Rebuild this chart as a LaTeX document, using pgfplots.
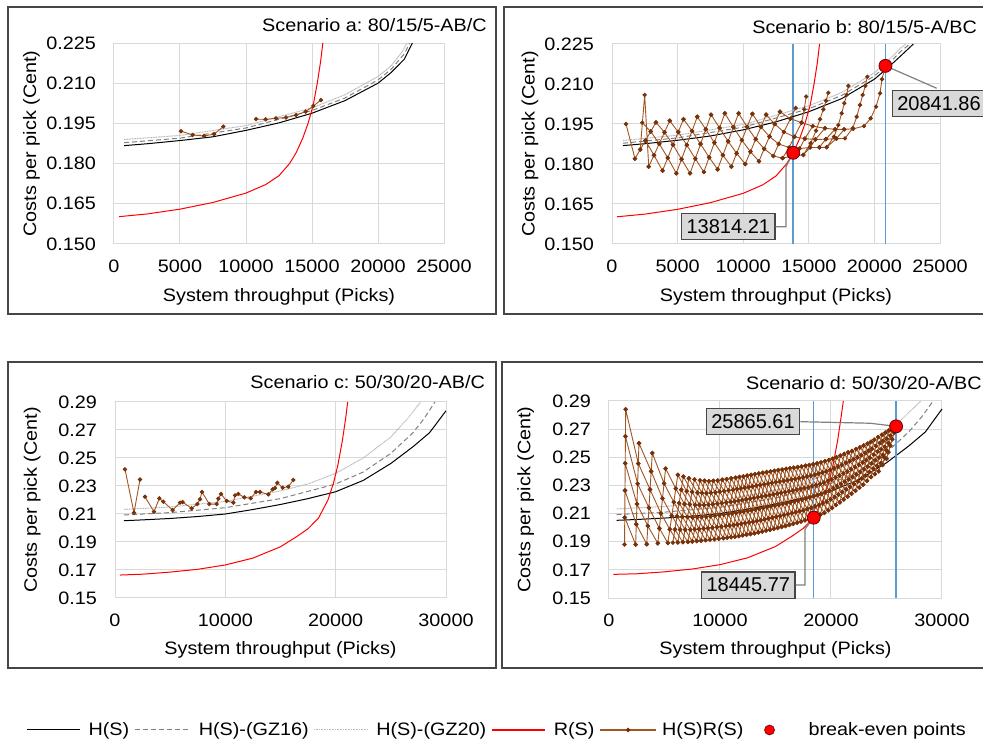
\documentclass[border=0pt]{standalone}
\usepackage{fontspec}
\setmainfont[FakeStretch=1.1]{Liberation Sans}
\newfontfamily\lblfont{Liberation Sans}
\usepackage{pgfplots}
\pgfplotsset{compat=1.18}
\definecolor{gridc}{RGB}{217,217,217}
\definecolor{framec}{RGB}{70,70,70}
\definecolor{gzsix}{RGB}{128,128,128}
\definecolor{gztwo}{RGB}{185,185,185}
\definecolor{hsrsl}{RGB}{160,85,35}
\definecolor{hsrsm}{RGB}{120,50,10}
\definecolor{beb}{RGB}{110,0,0}
\definecolor{blc}{RGB}{91,155,213}
\definecolor{lblfill}{RGB}{217,217,217}
\newcommand{\ff}{\fontsize{18}{21}\selectfont}
\pgfplotsset{
  /pgf/number format/assume math mode=true,
  panel/.style={
    scale only axis, clip=false, unbounded coords=jump,
    axis line style={draw=gridc, line width=1pt},
    grid=major, major grid style={draw=gridc, line width=1pt},
    major tick length=0pt,
    tick label style={font=\ff},
    label style={font=\ff},
    scaled x ticks=false, scaled y ticks=false,
    x tick label style={yshift=-10pt, /pgf/number format/fixed, /pgf/number format/1000 sep={}},
    y tick label style={xshift=-12pt},
    xlabel={System throughput (Picks)},
    ylabel={Costs per pick (Cent)},
    xlabel style={at={(axis description cs:0.5,-0.262)}, anchor=center},
    ylabel style={at={(axis description cs:-0.25,0.5)}, anchor=center},
  },
  ythree/.style={y tick label style={/pgf/number format/fixed, /pgf/number format/fixed zerofill, /pgf/number format/precision=3}},
  ytwo/.style={y tick label style={/pgf/number format/fixed, /pgf/number format/fixed zerofill, /pgf/number format/precision=2}},
  hs/.style={black, line width=1pt, mark=none, legend image code/.code={\draw[black, line width=1pt] (0pt,0pt) -- (53pt,0pt); \path[draw=none] (0pt,0pt) -- (60pt,0pt);}},
  gzs/.style={color=gzsix, line width=1pt, dash pattern=on 5pt off 3pt, mark=none, legend image code/.code={\draw[gzsix, line width=1pt, dash pattern=on 5pt off 3pt] (0pt,0pt) -- (55pt,0pt); \path[draw=none] (0pt,0pt) -- (62pt,0pt);}},
  gzt/.style={color=gztwo, line width=1pt, dash pattern=on 1pt off 0.6pt, mark=none, legend image code/.code={\draw[gztwo, line width=1pt, dash pattern=on 1pt off 0.6pt] (0pt,0pt) -- (54pt,0pt); \path[draw=none] (0pt,0pt) -- (60pt,0pt);}},
  rs/.style={red, line width=1pt, mark=none, legend image code/.code={\draw[red, line width=1.2pt] (0pt,0pt) -- (53pt,0pt); \path[draw=none] (0pt,0pt) -- (60pt,0pt);}},
  hsrs/.style={color=hsrsl, line width=0.9pt, mark=*, mark size=1.7pt, mark options={fill=hsrsm, draw=hsrsm, solid},
    legend image code/.code={\draw[hsrsl, line width=1.2pt] (0pt,0pt) -- (56pt,0pt); \fill[hsrsm] (28pt,0pt) circle (1.8pt); \path[draw=none] (0pt,0pt) -- (60pt,0pt);}},
  be/.style={only marks, mark=*, mark size=6.5pt, mark options={fill=red, draw=beb, line width=0.8pt},
    legend image code/.code={\path[draw=none] (0pt,0pt) -- (58pt,0pt); \filldraw[fill=red, draw=beb, line width=0.6pt] (21pt,0pt) circle (5pt);}},
  vline/.style={color=blc, line width=1.5pt, mark=none, forget plot},
}
\tikzset{
  lbl/.style={fill=lblfill, draw=framec, line width=1.2pt, font=\lblfont\fontsize{20}{22}\selectfont, inner xsep=5pt, inner ysep=6pt},
  leader/.style={draw=gzsix, line width=1.2pt},
  ttl/.style={anchor=east, inner sep=0pt},
}
\begin{document}
\frenchspacing
\ff
\begin{tikzpicture}[font=\ff]
\useasboundingbox (0,0) rectangle (983pt,742pt);
\draw[framec, line width=1.6pt] (8pt,428pt) rectangle (496pt,735pt);
\draw[framec, line width=1.6pt] (504pt,428pt) rectangle (995pt,735pt);
\draw[framec, line width=1.6pt] (8pt,74pt) rectangle (496pt,380pt);
\draw[framec, line width=1.6pt] (502pt,74pt) rectangle (995pt,380pt);

% ---------------- Panel a
\begin{axis}[panel, ythree, at={(114pt,498pt)}, anchor=south west, width=330pt, height=201pt,
  xmin=0, xmax=25000, ymin=0.150, ymax=0.225,
  xtick={0,5000,10000,15000,20000,25000}, ytick={0.150,0.165,0.180,0.195,0.210,0.225}]
\addplot[gzt] coordinates {(760,0.1890) (5000,0.1905) (10000,0.1942) (15000,0.2008) (17500,0.2057) (20000,0.2125) (21000,0.2165) (21800,0.2215) (22200,0.2250)};
\addplot[gzs] coordinates {(760,0.1878) (5000,0.1895) (10000,0.1933) (15000,0.1998) (17500,0.2045) (20000,0.2112) (21000,0.2152) (22000,0.2210) (22400,0.2250)};
\addplot[hs] coordinates {(760,0.1867) (2500,0.1874) (5000,0.1886) (7500,0.1900) (10000,0.1924) (12500,0.1952) (15000,0.1988) (17500,0.2035) (20000,0.2100) (21000,0.2140) (22000,0.2190) (22600,0.2250)};
\addplot[rs] coordinates {(380,0.1602) (2500,0.1612) (5000,0.1630) (7500,0.1655) (10000,0.1690) (11500,0.1722) (12500,0.1755) (13300,0.1800) (13814,0.1842) (14300,0.1895) (14700,0.1950) (15100,0.2020) (15400,0.2100) (15650,0.2180) (15820,0.2250)};
\addplot[hsrs] coordinates {(5076,0.1921) (5960,0.1907) (6820,0.1903) (7580,0.1910) (8280,0.1938) (nan,nan)
 (10760,0.1966) (11490,0.1965) (12270,0.1969) (13030,0.1972) (13790,0.1981) (14520,0.1994) (15100,0.2015) (15680,0.2037)};
\node[ttl] at (axis description cs:1.130,1.0896) {Scenario a: 80/15/5-AB/C};
\end{axis}

% ---------------- Panel b
\begin{axis}[panel, ythree, at={(612pt,498pt)}, anchor=south west, width=328pt, height=200pt,
  xmin=0, xmax=25000, ymin=0.150, ymax=0.225,
  xtick={0,5000,10000,15000,20000,25000}, ytick={0.150,0.165,0.180,0.195,0.210,0.225}]
\addplot[vline] coordinates {(13814.21,0.150) (13814.21,0.225)};
\addplot[vline] coordinates {(20841.86,0.150) (20841.86,0.225)};
\addplot[gzt] coordinates {(838,0.1888) (5000,0.1908) (10000,0.1948) (15000,0.2018) (17500,0.2068) (20000,0.2142) (21000,0.2185) (22000,0.2235) (22400,0.2250)};
\addplot[gzs] coordinates {(838,0.1878) (5000,0.1898) (10000,0.1938) (15000,0.2007) (17500,0.2057) (20000,0.2130) (21000,0.2172) (22000,0.2222) (22700,0.2250)};
\addplot[hs] coordinates {(838,0.1869) (2500,0.1876) (5000,0.1889) (7500,0.1905) (10000,0.1928) (12500,0.1958) (15000,0.1996) (17500,0.2045) (20000,0.2118) (21000,0.2160) (22000,0.2205) (22970,0.2250)};
\addplot[rs] coordinates {(380,0.1602) (2500,0.1612) (5000,0.1630) (7500,0.1655) (10000,0.1690) (11500,0.1722) (12500,0.1755) (13300,0.1800) (13814,0.1842) (14300,0.1895) (14700,0.1950) (15100,0.2020) (15400,0.2100) (15650,0.2180) (15820,0.2250)};
\addplot[hsrs] coordinates {
 (1067,0.1950) (1750,0.1820) (nan,nan)
 (2150,0.1854) (2490,0.2059) (2800,0.1790) (nan,nan)
 (1750,0.1820) (2150,0.1854) (2550,0.1888) (2950,0.1922) (3350,0.1956) (nan,nan)
 (2800,0.1790) (3200,0.1833) (3600,0.1876) (4000,0.1919) (4400,0.1962) (nan,nan)
 (3850,0.1775) (4250,0.1823) (4650,0.1872) (5050,0.1920) (5450,0.1968) (nan,nan)
 (4900,0.1765) (5300,0.1818) (5700,0.1871) (6100,0.1924) (6500,0.1977) (nan,nan)
 (5950,0.1765) (6350,0.1820) (6750,0.1875) (7150,0.1930) (7550,0.1985) (nan,nan)
 (7000,0.1770) (7400,0.1825) (7800,0.1880) (8200,0.1935) (8600,0.1990) (nan,nan)
 (8050,0.1780) (8450,0.1833) (8850,0.1885) (9250,0.1938) (9650,0.1990) (nan,nan)
 (9100,0.1790) (9500,0.1840) (9900,0.1889) (10300,0.1939) (10700,0.1988) (nan,nan)
 (10150,0.1800) (10550,0.1846) (10950,0.1893) (11350,0.1939) (11750,0.1985) (nan,nan)
 (11200,0.1810) (11600,0.1857) (12000,0.1903) (12400,0.1950) (12800,0.1996) (nan,nan)
 (2550,0.1888) (3200,0.1833) (3850,0.1775) (nan,nan)
 (2300,0.1955) (2950,0.1922) (3600,0.1876) (4250,0.1823) (4900,0.1765) (nan,nan)
 (3350,0.1956) (4000,0.1919) (4650,0.1872) (5300,0.1818) (5950,0.1765) (nan,nan)
 (4400,0.1962) (5050,0.1920) (5700,0.1871) (6350,0.1820) (7000,0.1770) (nan,nan)
 (5450,0.1968) (6100,0.1924) (6750,0.1875) (7400,0.1825) (8050,0.1780) (nan,nan)
 (6500,0.1977) (7150,0.1930) (7800,0.1880) (8450,0.1833) (9100,0.1790) (nan,nan)
 (7550,0.1985) (8200,0.1935) (8850,0.1885) (9500,0.1840) (10150,0.1800) (nan,nan)
 (8600,0.1990) (9250,0.1938) (9900,0.1889) (10550,0.1846) (11200,0.1810) (nan,nan)
 (9650,0.1990) (10300,0.1939) (10950,0.1893) (11600,0.1857) (12300,0.1830) (13000,0.1822) (13800,0.1830) (14583,0.1834) (15143,0.1878) (15550,0.1925) (15854,0.1968) (16108,0.2005) (16311,0.2037) (16489,0.2067) (nan,nan)
 (10700,0.1988) (11350,0.1939) (12000,0.1903) (12700,0.1875) (13500,0.1862) (14300,0.1858) (15100,0.1862) (15800,0.1862) (16362,0.1863) (16921,0.1902) (17251,0.1946) (17505,0.1990) (17707,0.2028) (17886,0.2059) (18012,0.2093) (nan,nan)
 (11750,0.1985) (12400,0.1950) (13100,0.1920) (13900,0.1902) (14700,0.1895) (15500,0.1892) (16300,0.1893) (17100,0.1895) (17759,0.1896) (18345,0.1934) (18649,0.1977) (18903,0.2021) (19106,0.2059) (19309,0.2093) (19462,0.2127) (nan,nan)
 (12800,0.1996) (13600,0.1970) (14450,0.1955) (15300,0.1942) (16235,0.1934) (17000,0.1930) (17700,0.1930) (18395,0.1932) (19208,0.1942) (19716,0.1971) (20122,0.2015) (20427,0.2065) (20579,0.2118) (20842,0.2168) (nan,nan)
 (12300,0.1830) (12700,0.1875) (13100,0.1920) (13600,0.1970) (14000,0.2010) (nan,nan)
 (13000,0.1822) (13500,0.1862) (13900,0.1902) (14450,0.1955) (14650,0.2005) (14800,0.2053) (nan,nan)
 (13800,0.1830) (14300,0.1858) (14700,0.1895) (15300,0.1942) (nan,nan)
 (14583,0.1834) (15100,0.1862) (15500,0.1892) (16235,0.1934) (nan,nan)
 (15800,0.1862) (16300,0.1893) (17000,0.1930) (nan,nan)
 (16362,0.1863) (17100,0.1895) (17700,0.1930)
};
\draw[leader] (axis cs:20841.86,0.2168) -- (axis cs:24748,0.2084);
\node[lbl, anchor=west] at (axis cs:21319,0.2026) {20841.86};
\node[lbl] (lb1) at (axis cs:8865,0.1565) {13814.21};
\draw[leader] (lb1.east) -- (axis cs:13262,0.1565) -- (axis cs:13262,0.1790) -- (axis cs:13814.21,0.1842);
\addplot[be] coordinates {(13814.21,0.1842) (20841.86,0.2168)};
\node[ttl] at (axis description cs:1.113,1.085) {Scenario b: 80/15/5-A/BC};
\end{axis}

% ---------------- Panel c
\begin{axis}[panel, ytwo, at={(115pt,144pt)}, anchor=south west, width=331pt, height=196pt,
  xmin=0, xmax=30000, ymin=0.15, ymax=0.29,
  xtick={0,10000,20000,30000}, ytick={0.15,0.17,0.19,0.21,0.23,0.25,0.27,0.29}]
\addplot[gzt] coordinates {(816,0.2133) (5000,0.2150) (10000,0.2190) (15000,0.2265) (17500,0.2315) (20000,0.2390) (22500,0.2500) (25000,0.2650) (26500,0.2780) (27700,0.2900)};
\addplot[gzs] coordinates {(816,0.2093) (5000,0.2110) (10000,0.2145) (15000,0.2210) (20000,0.2314) (22500,0.2400) (25000,0.2533) (27000,0.2680) (28000,0.2780) (29000,0.2900)};
\addplot[hs] coordinates {(816,0.2052) (2500,0.2058) (5000,0.2068) (7500,0.2082) (10000,0.2100) (12500,0.2132) (15000,0.2168) (17500,0.2210) (20000,0.2259) (22500,0.2340) (25000,0.2461) (27000,0.2580) (28500,0.2680) (30000,0.2837)};
\addplot[rs] coordinates {(453,0.1664) (2500,0.1670) (5000,0.1685) (7500,0.1705) (10000,0.1736) (12500,0.1785) (15000,0.1866) (16500,0.1940) (17500,0.1995) (18446,0.2071) (19300,0.2200) (19800,0.2320) (20200,0.2450) (20600,0.2620) (20900,0.2780) (21088,0.2900)};
\addplot[hsrs] coordinates {(906,0.2419) (1722,0.2109) (2266,0.2347) (nan,nan)
 (2719,0.2223) (3535,0.2116) (4018,0.2212) (4380,0.2188) (5226,0.2128) (5891,0.2181) (6133,0.2185) (6948,0.2140) (7461,0.2171) (7703,0.2205) (7885,0.2257) (8549,0.2171) (9214,0.2171) (9365,0.2209) (9607,0.2243) (10120,0.2193) (10724,0.2181) (10876,0.2233) (11178,0.2243) (11722,0.2219) (12297,0.2212) (12779,0.2257) (13141,0.2257) (13896,0.2240) (14290,0.2276) (14501,0.2285) (14712,0.2323) (15196,0.2288) (15710,0.2295) (16162,0.2343)};
\node[ttl] at (axis description cs:1.118,1.102) {Scenario c: 50/30/20-AB/C};
\end{axis}

% ---------------- Panel d
\begin{axis}[panel, ytwo, at={(609pt,144pt)}, anchor=south west, width=333pt, height=197pt,
  xmin=0, xmax=30000, ymin=0.15, ymax=0.29,
  xtick={0,10000,20000,30000}, ytick={0.15,0.17,0.19,0.21,0.23,0.25,0.27,0.29},
  legend columns=6,
  legend style={at={(axis description cs:-0.3363,-0.670)}, anchor=center, draw=none, fill=none, font=\ff,
    /tikz/every even column/.append style={column sep=3pt}}]
\addplot[hs] coordinates {(690,0.2052) (2500,0.2058) (5000,0.2068) (7500,0.2082) (10000,0.2100) (12500,0.2132) (15000,0.2168) (17500,0.2210) (20000,0.2259) (22500,0.2340) (25000,0.2461) (27000,0.2580) (28500,0.2680) (30000,0.2843)};
\addlegendentry{H(S)}
\addplot[gzs] coordinates {(690,0.2093) (5000,0.2110) (10000,0.2145) (15000,0.2210) (20000,0.2314) (22500,0.2400) (25000,0.2533) (27000,0.2680) (28200,0.2790) (29200,0.2900)};
\addlegendentry{H(S)-(GZ16)}
\addplot[gzt] coordinates {(690,0.2133) (5000,0.2150) (10000,0.2190) (15000,0.2265) (17500,0.2315) (20000,0.2390) (22500,0.2500) (25000,0.2650) (26500,0.2780) (28100,0.2900)};
\addlegendentry{H(S)-(GZ20)}
\addplot[rs] coordinates {(390,0.1668) (2500,0.1672) (5000,0.1686) (7500,0.1706) (10000,0.1737) (12500,0.1786) (15000,0.1866) (16500,0.1940) (17500,0.1995) (18446,0.2071) (19300,0.2200) (19800,0.2320) (20200,0.2450) (20600,0.2620) (20900,0.2780) (21110,0.2900)};
\addlegendentry{R(S)}
\addplot[hsrs, forget plot] coordinates {
 (5750,0.1893) (5940,0.1987) (6130,0.2081) (6320,0.2175) (6510,0.2269) (6700,0.2363) (nan,nan)
 (6650,0.1897) (6860,0.1986) (7070,0.2075) (7280,0.2165) (7490,0.2254) (7700,0.2343) (nan,nan)
 (7500,0.1902) (7720,0.1988) (7940,0.2074) (8160,0.2161) (8380,0.2247) (8600,0.2333) (nan,nan)
 (8300,0.1908) (8520,0.1993) (8740,0.2078) (8960,0.2163) (9180,0.2248) (9400,0.2333) (nan,nan)
 (9100,0.1915) (9320,0.2000) (9540,0.2085) (9760,0.2170) (9980,0.2255) (10200,0.2340) (nan,nan)
 (9900,0.1922) (10120,0.2007) (10340,0.2093) (10560,0.2179) (10780,0.2265) (11000,0.2350) (nan,nan)
 (10650,0.1929) (10870,0.2015) (11090,0.2101) (11310,0.2187) (11530,0.2274) (11750,0.2360) (nan,nan)
 (11350,0.1936) (11570,0.2023) (11790,0.2110) (12010,0.2196) (12230,0.2283) (12450,0.2370) (nan,nan)
 (12050,0.1945) (12270,0.2032) (12490,0.2119) (12710,0.2206) (12930,0.2293) (13150,0.2380) (nan,nan)
 (12750,0.1955) (12970,0.2042) (13190,0.2129) (13410,0.2216) (13630,0.2303) (13850,0.2390) (nan,nan)
 (13450,0.1966) (13670,0.2053) (13890,0.2140) (14110,0.2226) (14330,0.2313) (14550,0.2400) (nan,nan)
 (14150,0.1979) (14370,0.2065) (14590,0.2151) (14810,0.2237) (15030,0.2323) (15250,0.2409) (nan,nan)
 (14850,0.1992) (15070,0.2077) (15290,0.2162) (15510,0.2247) (15730,0.2332) (15950,0.2418) (nan,nan)
 (15550,0.2005) (15770,0.2090) (15990,0.2174) (16210,0.2258) (16430,0.2342) (16650,0.2426) (nan,nan)
 (16250,0.2020) (16470,0.2103) (16690,0.2186) (16910,0.2269) (17130,0.2352) (17350,0.2435) (nan,nan)
 (16950,0.2035) (17170,0.2117) (17390,0.2199) (17610,0.2281) (17830,0.2363) (18050,0.2445) (nan,nan)
 (17650,0.2052) (17870,0.2133) (18090,0.2214) (18310,0.2295) (18530,0.2376) (18750,0.2457) (nan,nan)
 (18350,0.2070) (18570,0.2151) (18790,0.2231) (19010,0.2311) (19230,0.2392) (19450,0.2472) (nan,nan)
 (19050,0.2093) (19270,0.2172) (19490,0.2252) (19710,0.2331) (19930,0.2411) (20150,0.2490) (nan,nan)
 (19750,0.2123) (19970,0.2201) (20190,0.2279) (20410,0.2356) (20630,0.2434) (20850,0.2512) (nan,nan)
 (20450,0.2160) (20670,0.2235) (20890,0.2310) (21110,0.2385) (21330,0.2460) (21550,0.2535) (nan,nan)
 (21150,0.2200) (21370,0.2272) (21590,0.2343) (21810,0.2415) (22030,0.2486) (22250,0.2558) (nan,nan)
 (21850,0.2241) (22070,0.2310) (22290,0.2378) (22510,0.2447) (22730,0.2515) (22950,0.2584) (nan,nan)
 (22550,0.2284) (22760,0.2349) (22970,0.2415) (23180,0.2480) (23390,0.2546) (23600,0.2611) (nan,nan)
 (23250,0.2333) (23450,0.2395) (23650,0.2457) (23850,0.2519) (24050,0.2581) (24250,0.2643) (nan,nan)
 (23950,0.2380) (24140,0.2439) (24330,0.2498) (24520,0.2557) (24710,0.2616) (24900,0.2675) (nan,nan)
 (24650,0.2445) (24827,0.2497) (25003,0.2549) (25180,0.2601) (25356,0.2653) (25533,0.2705) (nan,nan)
 (5940,0.1987) (6650,0.1897) (nan,nan)
 (6130,0.2081) (6860,0.1986) (7500,0.1902) (nan,nan)
 (6320,0.2175) (7070,0.2075) (7720,0.1988) (8300,0.1908) (nan,nan)
 (6510,0.2269) (7280,0.2165) (7940,0.2074) (8520,0.1993) (9100,0.1915) (nan,nan)
 (6700,0.2363) (7490,0.2254) (8160,0.2161) (8740,0.2078) (9320,0.2000) (9900,0.1922) (nan,nan)
 (7700,0.2343) (8380,0.2247) (8960,0.2163) (9540,0.2085) (10120,0.2007) (10650,0.1929) (nan,nan)
 (8600,0.2333) (9180,0.2248) (9760,0.2170) (10340,0.2093) (10870,0.2015) (11350,0.1936) (nan,nan)
 (9400,0.2333) (9980,0.2255) (10560,0.2179) (11090,0.2101) (11570,0.2023) (12050,0.1945) (nan,nan)
 (10200,0.2340) (10780,0.2265) (11310,0.2187) (11790,0.2110) (12270,0.2032) (12750,0.1955) (nan,nan)
 (11000,0.2350) (11530,0.2274) (12010,0.2196) (12490,0.2119) (12970,0.2042) (13450,0.1966) (nan,nan)
 (11750,0.2360) (12230,0.2283) (12710,0.2206) (13190,0.2129) (13670,0.2053) (14150,0.1979) (nan,nan)
 (12450,0.2370) (12930,0.2293) (13410,0.2216) (13890,0.2140) (14370,0.2065) (14850,0.1992) (nan,nan)
 (13150,0.2380) (13630,0.2303) (14110,0.2226) (14590,0.2151) (15070,0.2077) (15550,0.2005) (nan,nan)
 (13850,0.2390) (14330,0.2313) (14810,0.2237) (15290,0.2162) (15770,0.2090) (16250,0.2020) (nan,nan)
 (14550,0.2400) (15030,0.2323) (15510,0.2247) (15990,0.2174) (16470,0.2103) (16950,0.2035) (nan,nan)
 (15250,0.2409) (15730,0.2332) (16210,0.2258) (16690,0.2186) (17170,0.2117) (17650,0.2052) (nan,nan)
 (15950,0.2418) (16430,0.2342) (16910,0.2269) (17390,0.2199) (17870,0.2133) (18350,0.2070) (nan,nan)
 (16650,0.2426) (17130,0.2352) (17610,0.2281) (18090,0.2214) (18570,0.2151) (19050,0.2093) (nan,nan)
 (17350,0.2435) (17830,0.2363) (18310,0.2295) (18790,0.2231) (19270,0.2172) (19750,0.2123) (nan,nan)
 (18050,0.2445) (18530,0.2376) (19010,0.2311) (19490,0.2252) (19970,0.2201) (20450,0.2160) (nan,nan)
 (18750,0.2457) (19230,0.2392) (19710,0.2331) (20190,0.2279) (20670,0.2235) (21150,0.2200) (nan,nan)
 (19450,0.2472) (19930,0.2411) (20410,0.2356) (20890,0.2310) (21370,0.2272) (21850,0.2241) (nan,nan)
 (20150,0.2490) (20630,0.2434) (21110,0.2385) (21590,0.2343) (22070,0.2310) (22550,0.2284) (nan,nan)
 (20850,0.2512) (21330,0.2460) (21810,0.2415) (22290,0.2378) (22760,0.2349) (23250,0.2333) (nan,nan)
 (21550,0.2535) (22030,0.2486) (22510,0.2447) (22970,0.2415) (23450,0.2395) (23950,0.2380) (nan,nan)
 (22250,0.2558) (22730,0.2515) (23180,0.2480) (23650,0.2457) (24140,0.2439) (24650,0.2445) (nan,nan)
 (22950,0.2584) (23390,0.2546) (23850,0.2519) (24330,0.2498) (24827,0.2497) (nan,nan)
 (23600,0.2611) (24050,0.2581) (24520,0.2557) (25003,0.2549) (nan,nan)
 (24250,0.2643) (24710,0.2616) (25180,0.2601) (nan,nan)
 (24900,0.2675) (25356,0.2653)
};
\addplot[hsrs] coordinates {
 (1400,0.1880) (1420,0.2072) (1440,0.2264) (1460,0.2457) (1480,0.2649) (1500,0.2841) (nan,nan)
 (2400,0.1880) (2460,0.2024) (2520,0.2168) (2580,0.2312) (2640,0.2456) (2700,0.2600) (nan,nan)
 (3400,0.1882) (3500,0.2012) (3600,0.2141) (3700,0.2271) (3800,0.2400) (3900,0.2530) (nan,nan)
 (4400,0.1889) (4540,0.1995) (4680,0.2101) (4820,0.2208) (4960,0.2314) (5100,0.2420) (nan,nan)
 (5300,0.1891) (5480,0.1988) (5660,0.2085) (5840,0.2181) (6020,0.2278) (6200,0.2375) (nan,nan)
 (6200,0.1895) (6400,0.1986) (6600,0.2077) (6800,0.2168) (7000,0.2259) (7200,0.2350) (nan,nan)
 (7100,0.1899) (7320,0.1986) (7540,0.2073) (7760,0.2161) (7980,0.2248) (8200,0.2336) (nan,nan)
 (7900,0.1905) (8120,0.1990) (8340,0.2075) (8560,0.2160) (8780,0.2245) (9000,0.2330) (nan,nan)
 (8700,0.1911) (8920,0.1996) (9140,0.2081) (9360,0.2165) (9580,0.2250) (9800,0.2335) (nan,nan)
 (9500,0.1918) (9720,0.2003) (9940,0.2089) (10160,0.2174) (10380,0.2260) (10600,0.2345) (nan,nan)
 (10300,0.1925) (10520,0.2011) (10740,0.2097) (10960,0.2183) (11180,0.2269) (11400,0.2355) (nan,nan)
 (11000,0.1932) (11220,0.2018) (11440,0.2105) (11660,0.2191) (11880,0.2278) (12100,0.2364) (nan,nan)
 (11700,0.1940) (11920,0.2027) (12140,0.2114) (12360,0.2201) (12580,0.2288) (12800,0.2375) (nan,nan)
 (12400,0.1950) (12620,0.2037) (12840,0.2124) (13060,0.2211) (13280,0.2298) (13500,0.2385) (nan,nan)
 (13100,0.1960) (13320,0.2047) (13540,0.2134) (13760,0.2221) (13980,0.2308) (14200,0.2395) (nan,nan)
 (13800,0.1972) (14020,0.2058) (14240,0.2145) (14460,0.2231) (14680,0.2318) (14900,0.2404) (nan,nan)
 (14500,0.1985) (14720,0.2071) (14940,0.2156) (15160,0.2242) (15380,0.2327) (15600,0.2413) (nan,nan)
 (15200,0.1998) (15420,0.2083) (15640,0.2168) (15860,0.2252) (16080,0.2337) (16300,0.2422) (nan,nan)
 (15900,0.2012) (16120,0.2096) (16340,0.2179) (16560,0.2263) (16780,0.2346) (17000,0.2430) (nan,nan)
 (16600,0.2027) (16820,0.2110) (17040,0.2192) (17260,0.2275) (17480,0.2357) (17700,0.2440) (nan,nan)
 (17300,0.2043) (17520,0.2124) (17740,0.2206) (17960,0.2287) (18180,0.2369) (18400,0.2450) (nan,nan)
 (18000,0.2060) (18220,0.2141) (18440,0.2222) (18660,0.2302) (18880,0.2383) (19100,0.2464) (nan,nan)
 (18700,0.2080) (18920,0.2160) (19140,0.2240) (19360,0.2320) (19580,0.2400) (19800,0.2480) (nan,nan)
 (19400,0.2105) (19620,0.2184) (19840,0.2263) (20060,0.2342) (20280,0.2421) (20500,0.2500) (nan,nan)
 (20100,0.2140) (20320,0.2217) (20540,0.2294) (20760,0.2370) (20980,0.2447) (21200,0.2524) (nan,nan)
 (20800,0.2180) (21020,0.2253) (21240,0.2326) (21460,0.2399) (21680,0.2472) (21900,0.2545) (nan,nan)
 (21500,0.2220) (21720,0.2290) (21940,0.2360) (22160,0.2430) (22380,0.2500) (22600,0.2570) (nan,nan)
 (22200,0.2262) (22420,0.2329) (22640,0.2396) (22860,0.2463) (23080,0.2530) (23300,0.2597) (nan,nan)
 (22900,0.2305) (23100,0.2369) (23300,0.2433) (23500,0.2497) (23700,0.2561) (23900,0.2625) (nan,nan)
 (23600,0.2360) (23800,0.2420) (24000,0.2480) (24200,0.2540) (24400,0.2600) (24600,0.2660) (nan,nan)
 (24300,0.2400) (24480,0.2458) (24660,0.2516) (24840,0.2574) (25020,0.2632) (25200,0.2690) (nan,nan)
 (25000,0.2490) (25173,0.2536) (25346,0.2582) (25519,0.2628) (25692,0.2674) (25866,0.2720) (nan,nan)
 (1420,0.2072) (2400,0.1880) (nan,nan)
 (1440,0.2264) (2460,0.2024) (3400,0.1882) (nan,nan)
 (1460,0.2457) (2520,0.2168) (3500,0.2012) (4400,0.1889) (nan,nan)
 (1480,0.2649) (2580,0.2312) (3600,0.2141) (4540,0.1995) (5300,0.1891) (nan,nan)
 (1500,0.2841) (2640,0.2456) (3700,0.2271) (4680,0.2101) (5480,0.1988) (6200,0.1895) (nan,nan)
 (2700,0.2600) (3800,0.2400) (4820,0.2208) (5660,0.2085) (6400,0.1986) (7100,0.1899) (nan,nan)
 (3900,0.2530) (4960,0.2314) (5840,0.2181) (6600,0.2077) (7320,0.1986) (7900,0.1905) (nan,nan)
 (5100,0.2420) (6020,0.2278) (6800,0.2168) (7540,0.2073) (8120,0.1990) (8700,0.1911) (nan,nan)
 (6200,0.2375) (7000,0.2259) (7760,0.2161) (8340,0.2075) (8920,0.1996) (9500,0.1918) (nan,nan)
 (7200,0.2350) (7980,0.2248) (8560,0.2160) (9140,0.2081) (9720,0.2003) (10300,0.1925) (nan,nan)
 (8200,0.2336) (8780,0.2245) (9360,0.2165) (9940,0.2089) (10520,0.2011) (11000,0.1932) (nan,nan)
 (9000,0.2330) (9580,0.2250) (10160,0.2174) (10740,0.2097) (11220,0.2018) (11700,0.1940) (nan,nan)
 (9800,0.2335) (10380,0.2260) (10960,0.2183) (11440,0.2105) (11920,0.2027) (12400,0.1950) (nan,nan)
 (10600,0.2345) (11180,0.2269) (11660,0.2191) (12140,0.2114) (12620,0.2037) (13100,0.1960) (nan,nan)
 (11400,0.2355) (11880,0.2278) (12360,0.2201) (12840,0.2124) (13320,0.2047) (13800,0.1972) (nan,nan)
 (12100,0.2364) (12580,0.2288) (13060,0.2211) (13540,0.2134) (14020,0.2058) (14500,0.1985) (nan,nan)
 (12800,0.2375) (13280,0.2298) (13760,0.2221) (14240,0.2145) (14720,0.2071) (15200,0.1998) (nan,nan)
 (13500,0.2385) (13980,0.2308) (14460,0.2231) (14940,0.2156) (15420,0.2083) (15900,0.2012) (nan,nan)
 (14200,0.2395) (14680,0.2318) (15160,0.2242) (15640,0.2168) (16120,0.2096) (16600,0.2027) (nan,nan)
 (14900,0.2404) (15380,0.2327) (15860,0.2252) (16340,0.2179) (16820,0.2110) (17300,0.2043) (nan,nan)
 (15600,0.2413) (16080,0.2337) (16560,0.2263) (17040,0.2192) (17520,0.2124) (18000,0.2060) (nan,nan)
 (16300,0.2422) (16780,0.2346) (17260,0.2275) (17740,0.2206) (18220,0.2141) (18700,0.2080) (nan,nan)
 (17000,0.2430) (17480,0.2357) (17960,0.2287) (18440,0.2222) (18920,0.2160) (19400,0.2105) (nan,nan)
 (17700,0.2440) (18180,0.2369) (18660,0.2302) (19140,0.2240) (19620,0.2184) (20100,0.2140) (nan,nan)
 (18400,0.2450) (18880,0.2383) (19360,0.2320) (19840,0.2263) (20320,0.2217) (20800,0.2180) (nan,nan)
 (19100,0.2464) (19580,0.2400) (20060,0.2342) (20540,0.2294) (21020,0.2253) (21500,0.2220) (nan,nan)
 (19800,0.2480) (20280,0.2421) (20760,0.2370) (21240,0.2326) (21720,0.2290) (22200,0.2262) (nan,nan)
 (20500,0.2500) (20980,0.2447) (21460,0.2399) (21940,0.2360) (22420,0.2329) (22900,0.2305) (nan,nan)
 (21200,0.2524) (21680,0.2472) (22160,0.2430) (22640,0.2396) (23100,0.2369) (23600,0.2360) (nan,nan)
 (21900,0.2545) (22380,0.2500) (22860,0.2463) (23300,0.2433) (23800,0.2420) (24300,0.2400) (nan,nan)
 (22600,0.2570) (23080,0.2530) (23500,0.2497) (24000,0.2480) (24480,0.2458) (25000,0.2490) (nan,nan)
 (23300,0.2597) (23700,0.2561) (24200,0.2540) (24660,0.2516) (25173,0.2536) (nan,nan)
 (23900,0.2625) (24400,0.2600) (24840,0.2574) (25346,0.2582) (nan,nan)
 (24600,0.2660) (25020,0.2632) (25519,0.2628) (nan,nan)
 (25200,0.2690) (25692,0.2674)
};
\addlegendentry{H(S)R(S)}
\addplot[vline] coordinates {(18445.77,0.15) (18445.77,0.29)};
\addplot[vline] coordinates {(25865.61,0.15) (25865.61,0.29)};
\node[lbl] (ld1) at (axis cs:12973,0.2753) {25865.61};
\draw[leader] (ld1.east) -- (axis cs:23514,0.2742) -- (axis cs:25865.61,0.2720);
\node[lbl] (ld2) at (axis cs:12550,0.1592) {18445.77};
\draw[leader] (ld2.east) -- (axis cs:17658,0.1592) -- (axis cs:17658,0.1990) -- (axis cs:18445.77,0.2071);
\addplot[be] coordinates {(18445.77,0.2071) (25865.61,0.2720)};
\addlegendentry{break-even points}
\node[ttl] at (axis description cs:1.120,1.091) {Scenario d: 50/30/20-A/BC};
\end{axis}
\end{tikzpicture}
\end{document}
